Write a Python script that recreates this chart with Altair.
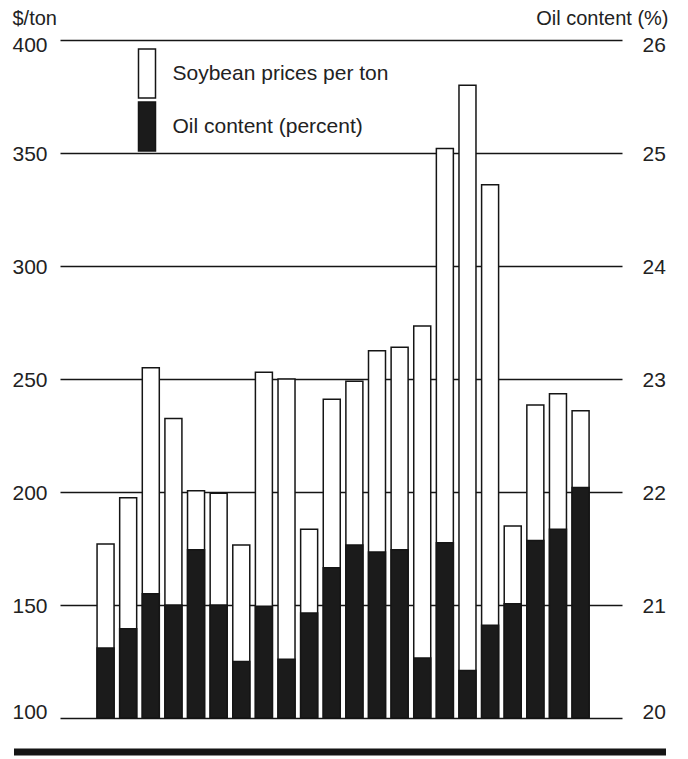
import altair as alt
import pandas as pd

# ---- data ----
bar_index = [1, 2, 3, 4, 5, 6, 7, 8, 9, 10, 11, 12, 13, 14, 15, 16, 17, 18, 19, 20, 21, 22]
price_per_ton = [177, 197.5, 255, 232.5, 200.5, 199.5, 176.5, 253, 250, 183.5, 241,
                 249, 262.5, 264, 273.5, 352, 380, 336, 185, 238.5, 243.5, 236]
oil_content = [20.62, 20.79, 21.10, 21.00, 21.49, 21.00, 20.50, 20.99, 20.52, 20.93, 21.33,
               21.53, 21.47, 21.49, 20.53, 21.55, 20.42, 20.82, 21.01, 21.57, 21.67, 22.04]
series_names = ["Soybean prices per ton", "Oil content (percent)"]
price_ticks = [100, 150, 200, 250, 300, 350, 400]
oil_ticks = [20, 21, 22, 23, 24, 25, 26]

df_price = pd.DataFrame({"i": bar_index, "value": price_per_ton, "series": series_names[0]})
df_oil = pd.DataFrame({"i": bar_index, "value": oil_content, "series": series_names[1]})

FONT = "Liberation Sans"
INK = "#151515"
TXT = "#222222"

x_enc = alt.X("i:Q", scale=alt.Scale(domain=[-0.793, 23.61], nice=False, zero=False), axis=None)
fill_scale = alt.Scale(domain=series_names, range=["#ffffff", "#1b1b1b"])
legend = alt.Legend(
    title=None, orient="none", legendX=61.5, legendY=8, padding=0, rowPadding=-5,
    symbolType="M-0.347,-1H0.347V1H-0.347Z", symbolSize=2401,
    symbolStrokeColor=INK, symbolStrokeWidth=1.5,
    labelFont=FONT, labelFontSize=21, labelColor=TXT, labelLimit=400, labelOffset=0,
)


def label_shift(top_value, bottom_value):
    return {
        "condition": [
            {"test": f"datum.value == {top_value}", "value": 5},
            {"test": f"datum.value == {bottom_value}", "value": -6},
        ],
        "value": 1,
    }


price_bars = alt.Chart(df_price).mark_bar(size=17, stroke=INK, strokeWidth=1.5).encode(
    x=x_enc,
    y=alt.Y(
        "value:Q",
        scale=alt.Scale(domain=[100, 400], nice=False, zero=False),
        axis=alt.Axis(
            orient="left", values=price_ticks, grid=True, gridColor=INK, gridWidth=1.5,
            domain=False, ticks=False, labelPadding=13, labelOffset=label_shift(400, 100),
            labelFont=FONT, labelFontSize=21, labelColor=TXT, title="$/ton", titleAngle=0,
            titleAlign="left", titleBaseline="top", titleX=-48, titleY=-32,
            titleFont=FONT, titleFontSize=20, titleFontWeight="normal", titleColor=TXT,
        ),
    ),
    y2=alt.datum(100),
    fill=alt.Fill("series:N", scale=fill_scale, legend=legend),
)

oil_bars = alt.Chart(df_oil).mark_bar(size=17, stroke=INK, strokeWidth=1.5).encode(
    x=x_enc,
    y=alt.Y(
        "value:Q",
        scale=alt.Scale(domain=[20, 26], nice=False, zero=False),
        axis=alt.Axis(
            orient="right", values=oil_ticks, grid=False, domain=False, ticks=False,
            labelPadding=20, labelOffset=label_shift(26, 20), labelFont=FONT,
            labelFontSize=21, labelColor=TXT, title="Oil content (%)", titleAngle=0,
            titleAlign="right", titleBaseline="top", titleX=46, titleY=-32,
            titleFont=FONT, titleFontSize=20, titleFontWeight="normal", titleColor=TXT,
        ),
    ),
    y2=alt.datum(20),
    fill=alt.Fill("series:N", scale=fill_scale, legend=legend),
)

band = alt.Chart(alt.Data(values=[{}])).mark_rule(color=INK, strokeWidth=7).encode(
    x=alt.value(-46), x2=alt.value(606), y=alt.value(712)
)

chart = (
    alt.layer(price_bars, oil_bars, band)
    .resolve_scale(y="independent")
    .properties(
        width=562, height=678,
        autosize=alt.AutoSizeParams(type="none"),
        padding={"left": 52, "top": 32, "right": 58, "bottom": 40},
        background="white",
    )
    .configure_view(strokeWidth=0)
)

chart.save("out.html", embed_options={"renderer": "svg", "actions": False})
